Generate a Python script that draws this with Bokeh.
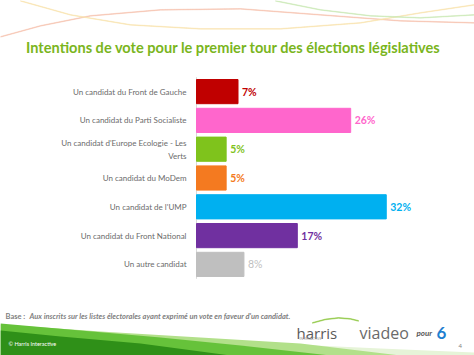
from bokeh.plotting import figure
from bokeh.models import ColumnDataSource, Label, PolyAnnotation, FactorRange, Range1d
from bokeh.core.properties import value
from bokeh.embed import file_html
from bokeh.resources import INLINE

categories = [
    "Un candidat du Front de Gauche",
    "Un candidat du Parti Socialiste",
    "Un candidat d'Europe Ecologie - Les Verts",
    "Un candidat du MoDem",
    "Un candidat de l'UMP",
    "Un candidat du Front National",
    "Un autre candidat",
]
category_labels = [
    "Un candidat du Front de Gauche",
    "Un candidat du Parti Socialiste",
    "Un candidat d'Europe Ecologie - Les\nVerts",
    "Un candidat du MoDem",
    "Un candidat de l'UMP",
    "Un candidat du Front National",
    "Un autre candidat",
]
values = [7, 26, 5, 5, 32, 17, 8]
value_labels = ["7%", "26%", "5%", "5%", "32%", "17%", "8%"]
bar_colors = ["#c00000", "#ff66cc", "#7fc31c", "#f47a20", "#00b0f0", "#7030a0", "#bfbfbf"]
label_colors = ["#c00000", "#ff66cc", "#7fc31c", "#f47a20", "#00b0f0", "#7030a0", "#bfbfbf"]
label_weights = ["bold", "bold", "bold", "bold", "bold", "bold", "normal"]

title_text = "Intentions de vote pour le premier tour des élections législatives"
base_label = "Base :"
base_text = "Aux inscrits sur les listes électorales ayant exprimé un vote en faveur d'un candidat."

W, H = 474, 355
AX = 196          # x pixel of the value axis (0%)
PX_PER_PCT = 5.93
STEP = 28.8       # pixel height of one category band
TOP = 76.7        # pixel of the top of the first band

src = ColumnDataSource(dict(cat=categories, val=values, lab=value_labels, catlab=category_labels,
                            color=bar_colors, lcolor=label_colors, weight=label_weights))

pad = TOP / STEP

p = figure(width=W, height=H, output_backend="svg", toolbar_location=None,
           y_range=FactorRange(*list(reversed(categories)), range_padding=pad,
                               range_padding_units="absolute"),
           x_range=Range1d(-AX / PX_PER_PCT, (W - AX) / PX_PER_PCT),
           x_axis_type=None, y_axis_type=None,
           min_border=0, outline_line_color=None)
p.background_fill_color = "white"
p.border_fill_color = "white"
p.xgrid.visible = False
p.ygrid.visible = False

font = "Lato"

# value axis line spanning all category bands
p.rect(x=[0], y=[categories[3]], width=1, width_units="screen", height=len(categories),
       fill_color="#d9d9d9", line_color=None)

p.hbar(y="cat", right="val", left=0, height=0.84, source=src,
       fill_color="color", line_color="color")
p.text(x="val", y="cat", text="lab", source=src, x_offset=4,
       text_color="lcolor", text_font_style="weight", text_font_size="10.5px",
       text_baseline="middle", text_align="left", text_font=value(font))
p.text(x=0, y="cat", text="catlab", source=src, x_offset=-10,
       text_color="#6b6b6b", text_font_size="8px", text_line_height=1.3,
       text_baseline="middle", text_align="right", text_font=value(font))


def sx(x):
    return x


def sy(y):
    return H - y


def curve(xs, ys, col, thick=0.7, alpha=0.9):
    p.add_layout(PolyAnnotation(xs=[sx(x) for x in xs] + [sx(x) for x in reversed(xs)],
                                ys=[sy(y) for y in ys] + [sy(y + thick) for y in reversed(ys)],
                                xs_units="screen", ys_units="screen",
                                fill_color=col, fill_alpha=alpha, line_color=col,
                                line_alpha=alpha, line_width=0.5))


# decorative top curves
curve([0, 40, 90, 160, 240, 320, 400, 474], [36, 25, 15, 9, 8, 14, 20, 22], "#f6c2ae")
curve([20, 70, 130, 200, 280, 360, 420, 474], [0, 14, 24, 28, 28, 22, 12, 4], "#f9e3ac")
curve([275, 320, 370, 420, 474], [0, 9, 15, 17, 14], "#c9e8b4")
# green arc of the harris logo
curve([312, 325, 338, 350, 358], [322, 318.5, 317, 318, 320], "#8cc63f", 0.8, 1.0)

# green swoosh at bottom
sw_layers = [
    ([0, 120, 250, 380, 474, 474, 0], [330, 336, 342, 348, 352, 355, 355], "#e6f4d8"),
    ([0, 100, 200, 300, 400, 300, 0], [324, 331, 337, 343, 355, 355, 355], "#b2e08a"),
    ([0, 80, 160, 240, 330, 0], [323, 330, 337, 345, 355, 355], "#66c23a"),
    ([0, 60, 140, 230, 0], [330, 336, 343, 355, 355], "#2f9018"),
]
for xs, ys, col in sw_layers:
    p.add_layout(PolyAnnotation(xs=[sx(x) for x in xs], ys=[sy(y) for y in ys],
                                xs_units="screen", ys_units="screen",
                                fill_color=col, fill_alpha=1.0, line_color=None))


def label(x, y, text, size, color, style="normal", align="left", fnt=font):
    p.add_layout(Label(x=sx(x), y=sy(y), x_units="screen", y_units="screen",
                       text=text, text_align=align, text_baseline="alphabetic",
                       text_font=fnt, text_font_style=style, text_font_size=size,
                       text_color=color))


label(233, 47, title_text, "14.6px", "#7ab51d", "bold", "center")
label(5, 316, base_label, "7.5px", "#7f7f7f", "bold")
label(29, 316, base_text, "7.5px", "#7f7f7f", "bold italic")
label(8, 343, "© Harris Interactive", "5.5px", "white")
label(296, 332, "harris", "15px", "#5a5a5a", fnt="Open Sans")
label(299, 338, "INTERACTIVE", "3.5px", "#9a9a9a")
label(359, 332, "viadeo", "16px", "#6a6a6a", fnt="Open Sans")
label(416, 332, "pour", "8px", "#5a5a5a", "bold italic")
label(436, 332, "6", "17px", "#1f7fd0", "bold")
label(458, 345, "4", "6px", "#7f7f7f")

open("out.html", "w").write(file_html(p, INLINE))
